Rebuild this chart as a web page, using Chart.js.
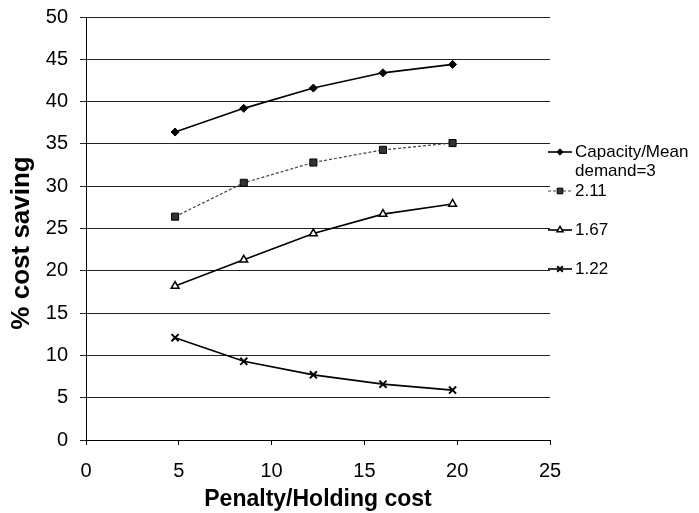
<!DOCTYPE html>
<html><head><meta charset="utf-8">
<script src="https://cdn.jsdelivr.net/npm/chart.js@4/dist/chart.umd.min.js"></script>
<style>html,body{margin:0;padding:0;background:#fff}#wrap{width:699px;height:513px}</style>
</head><body><div id="wrap"><canvas id="c" width="699" height="513"></canvas></div>
<script>
// Data
const xValues = [4.8, 8.5, 12.25, 16, 19.75];
const seriesSaving3 = [36.4, 39.2, 41.6, 43.4, 44.4];
const seriesSaving211 = [26.4, 30.4, 32.8, 34.3, 35.1];
const seriesSaving167 = [18.2, 21.3, 24.4, 26.7, 27.9];
const seriesSaving122 = [12.1, 9.3, 7.7, 6.6, 5.9];
const seriesLabels = [["Capacity/Mean", "demand=3"], "2.11", "1.67", "1.22"];
const xTitle = "Penalty/Holding cost";
const yTitle = "% cost saving";
const xMin = 0, xMax = 25, xStep = 5;
const yMin = 0, yMax = 50, yStep = 5;

const FONT = "'Liberation Sans', Arial, sans-serif";
const toPts = ys => xValues.map((x, i) => ({x: x, y: ys[i]}));

const legendPlugin = {
  id: 'sideLegend',
  afterDraw(chart) {
    const ctx = chart.ctx;
    const area = chart.chartArea;
    const x0 = area.right - 2;
    const yStart = 152, gap = 39;
    ctx.save();
    chart.data.datasets.forEach((ds, i) => {
      const y = yStart + gap * i;
      ctx.beginPath();
      ctx.strokeStyle = ds.borderColor;
      ctx.lineWidth = ds.borderWidth;
      ctx.setLineDash(ds.borderDash || []);
      ctx.moveTo(x0, y); ctx.lineTo(x0 + 24, y); ctx.stroke();
      ctx.setLineDash([]);
      ctx.fillStyle = ds.pointBackgroundColor;
      ctx.strokeStyle = ds.pointBorderColor;
      ctx.lineWidth = ds.pointBorderWidth;
      Chart.helpers.drawPoint(ctx, {pointStyle: ds.pointStyle, radius: ds.pointRadius * 0.8, borderWidth: ds.pointBorderWidth, rotation: 0}, x0 + 12, y);
      ctx.fillStyle = '#000';
      ctx.font = "17px " + FONT;
      ctx.textBaseline = 'middle';
      ctx.textAlign = 'left';
      const lines = Array.isArray(ds.label) ? ds.label : [ds.label];
      lines.forEach((t, j) => ctx.fillText(t, x0 + 27, y + j * 19));
    });
    ctx.restore();
  }
};

new Chart(document.getElementById('c'), {
  type: 'scatter',
  data: {
    datasets: [
      {label: seriesLabels[0], data: toPts(seriesSaving3), showLine: true, borderColor: '#000', borderWidth: 1.6,
       pointStyle: 'rectRot', pointRadius: 4, pointBackgroundColor: '#000', pointBorderColor: '#000', pointBorderWidth: 1},
      {label: seriesLabels[1], data: toPts(seriesSaving211), showLine: true, borderColor: '#444', borderWidth: 1.2, borderDash: [3, 2],
       pointStyle: 'rect', pointRadius: 5, pointBackgroundColor: '#333', pointBorderColor: '#000', pointBorderWidth: 1},
      {label: seriesLabels[2], data: toPts(seriesSaving167), showLine: true, borderColor: '#000', borderWidth: 1.6,
       pointStyle: 'triangle', pointRadius: 4.5, pointBackgroundColor: '#fff', pointBorderColor: '#000', pointBorderWidth: 1.5},
      {label: seriesLabels[3], data: toPts(seriesSaving122), showLine: true, borderColor: '#000', borderWidth: 1.6,
       pointStyle: 'crossRot', pointRadius: 5, pointBackgroundColor: '#000', pointBorderColor: '#000', pointBorderWidth: 2}
    ]
  },
  options: {
    responsive: false,
    animation: false,
    layout: {padding: {left: 0, top: 17, right: 149, bottom: 0}},
    plugins: {legend: {display: false}, tooltip: {enabled: false}},
    scales: {
      x: {
        type: 'linear', min: xMin, max: xMax,
        ticks: {stepSize: xStep, color: '#000', font: {family: FONT, size: 20}, padding: 14, maxRotation: 0},
        grid: {drawOnChartArea: false, drawTicks: true, tickLength: 5, color: '#000'},
        border: {color: '#000', width: 1},
        title: {display: true, text: xTitle, color: '#000', font: {family: FONT, size: 23, weight: 'bold'}, padding: {top: 0, bottom: 0}},
        afterFit: s => { s.height = 73; }
      },
      y: {
        min: yMin, max: yMax,
        ticks: {stepSize: yStep, color: '#000', font: {family: FONT, size: 20}, padding: 12},
        grid: {color: '#222', lineWidth: 1, tickLength: 6},
        border: {color: '#000', width: 1},
        title: {display: true, text: yTitle + "    ", color: '#000', font: {family: FONT, size: 26, weight: 'bold'}, padding: {top: 6, bottom: 0}},
        afterFit: s => { s.width = 86; s.paddingTop = 0; s.paddingBottom = 0; }
      }
    }
  },
  plugins: [legendPlugin]
});
</script>
</body></html>
